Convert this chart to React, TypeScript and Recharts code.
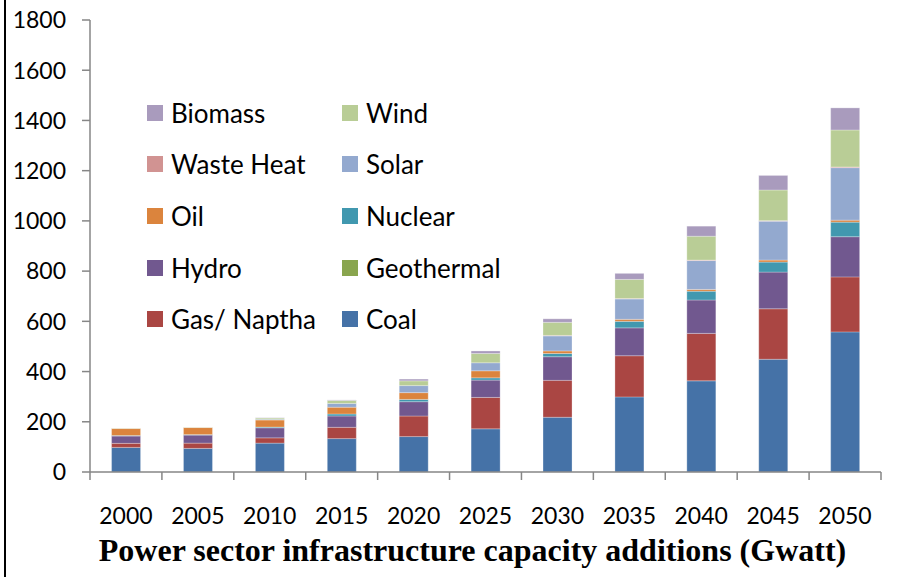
import React from "react";
import { BarChart, Bar, XAxis, YAxis } from "recharts";

const years = ["2000", "2005", "2010", "2015", "2020", "2025", "2030", "2035", "2040", "2045", "2050"];
const coal = [98, 94, 115, 133, 141, 172, 218, 299, 363, 449, 558];
const gas = [16, 21, 21, 45, 82, 125, 147, 164, 189, 201, 219];
const geothermal = [0, 0, 0, 0, 0, 0, 0, 0, 0, 0, 0];
const hydro = [29, 32, 40, 45, 57, 69, 94, 111, 133, 146, 160];
const nuclear = [2, 2, 3, 8, 9, 9, 13, 26, 35, 40, 58];
const oil = [28, 28, 28, 27, 27, 28, 10, 8, 7, 8, 8];
const solar = [0, 0, 3, 15, 28, 32, 60, 81, 115, 155, 209];
const wasteHeat = [0, 0, 0, 0, 0, 0, 2, 2, 2, 2, 3];
const wind = [1, 1, 5, 12, 19, 37, 52, 76, 95, 122, 147];
const biomass = [0, 0, 1, 2, 7, 10, 14, 24, 40, 58, 88];
const yTicks = [0, 200, 400, 600, 800, 1000, 1200, 1400, 1600, 1800];

const series = [
  { key: "coal", name: "Coal", values: coal, color: "#4572A7" },
  { key: "gas", name: "Gas/ Naptha", values: gas, color: "#AA4643" },
  { key: "geothermal", name: "Geothermal", values: geothermal, color: "#89A54E" },
  { key: "hydro", name: "Hydro", values: hydro, color: "#71588F" },
  { key: "nuclear", name: "Nuclear", values: nuclear, color: "#4198AF" },
  { key: "oil", name: "Oil", values: oil, color: "#DB843D" },
  { key: "solar", name: "Solar", values: solar, color: "#93A9CF" },
  { key: "wasteHeat", name: "Waste Heat", values: wasteHeat, color: "#D19392" },
  { key: "wind", name: "Wind", values: wind, color: "#B9CD96" },
  { key: "biomass", name: "Biomass", values: biomass, color: "#A99BBD" },
];

const legendRows = [
  ["biomass", "wind"],
  ["wasteHeat", "solar"],
  ["oil", "nuclear"],
  ["hydro", "geothermal"],
  ["gas", "coal"],
];

const data = years.map((y, i) => {
  const row: any = { year: y };
  series.forEach((s) => (row[s.key] = s.values[i]));
  return row;
});

const W = 924;
const H = 577;
const M = { top: 20, right: 43, left: 0, bottom: 0 };
const Y_W = 90;
const X_H = 105;
const AXIS_Y = H - X_H;
const PLOT_W = W - M.right - Y_W;
const BAND = PLOT_W / years.length;
const AXIS_COLOR = "#868686";
const FONT = "Lato, 'Open Sans', sans-serif";

const XTick = (props: any) => {
  const { x, payload, index } = props;
  return (
    <g>
      <line x1={x - BAND / 2} x2={x - BAND / 2} y1={AXIS_Y} y2={AXIS_Y + 8} stroke={AXIS_COLOR} strokeWidth={1.5} />
      {index === years.length - 1 && (
        <line x1={x + BAND / 2} x2={x + BAND / 2} y1={AXIS_Y} y2={AXIS_Y + 8} stroke={AXIS_COLOR} strokeWidth={1.5} />
      )}
      <text x={x} y={AXIS_Y + 52} textAnchor="middle" fontSize={23} fontFamily={FONT} fill="#000">
        {payload.value}
      </text>
    </g>
  );
};

const YTick = (props: any) => {
  const { y, payload } = props;
  return (
    <text x={66} y={y} dy="0.36em" textAnchor="end" fontSize={23} fontFamily={FONT} fill="#000">
      {payload.value}
    </text>
  );
};

export default function App() {
  const byKey: any = {};
  series.forEach((s) => (byKey[s.key] = s));
  return (
    <div style={{ position: "absolute", left: 0, top: 0, width: W, height: H, background: "#fff", overflow: "hidden" }}>
      <div style={{ position: "absolute", left: 4, top: 0, width: 2, height: H, background: "#000" }} />
      <BarChart width={W} height={H} data={data} margin={M} barCategoryGap="30%">
        <XAxis
          dataKey="year"
          height={X_H}
          tickLine={false}
          axisLine={{ stroke: AXIS_COLOR, strokeWidth: 1.5 }}
          tick={<XTick />}
          interval={0}
        />
        <YAxis
          width={Y_W}
          domain={[0, 1800]}
          ticks={yTicks}
          interval={0}
          tickSize={8}
          tickLine={{ stroke: AXIS_COLOR, strokeWidth: 1.5 }}
          axisLine={{ stroke: AXIS_COLOR, strokeWidth: 1.5 }}
          tick={<YTick />}
        />
        {series.map((s) => (
          <Bar
            key={s.key}
            dataKey={s.key}
            name={s.name}
            stackId="a"
            fill={s.color}
            stroke="#ffffff"
            strokeOpacity={0.35}
            strokeWidth={0.8}
            isAnimationActive={false}
          />
        ))}
      </BarChart>
      <div style={{ position: "absolute", left: 147, top: 87, fontFamily: FONT, fontSize: 26 }}>
        {legendRows.map((row, ri) => (
          <div key={ri} style={{ display: "flex", height: 51.6, alignItems: "center" }}>
            {row.map((k, ci) => (
              <div key={k} style={{ display: "flex", alignItems: "center", width: ci === 0 ? 195 : 200 }}>
                <div style={{ width: 16, height: 16, background: byKey[k].color, marginRight: 8 }} />
                <span style={{ color: "#000", whiteSpace: "nowrap" }}>{byKey[k].name}</span>
              </div>
            ))}
          </div>
        ))}
      </div>
      <div
        style={{
          position: "absolute",
          left: 0,
          width: 945,
          top: 532,
          textAlign: "center",
          fontFamily: "'Liberation Serif', 'Times New Roman', serif",
          fontWeight: "bold",
          fontSize: 32,
          lineHeight: "36px",
          color: "#000",
          whiteSpace: "nowrap",
        }}
      >
        Power sector infrastructure capacity additions (Gwatt)
      </div>
    </div>
  );
}
